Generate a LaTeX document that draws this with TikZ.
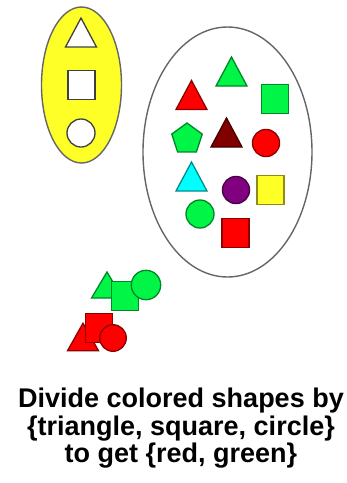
\documentclass[tikz,border=0pt]{standalone}
\usepackage{fontspec}
\setmainfont{Liberation Sans}
\definecolor{sgreen}{RGB}{0,245,70}
\definecolor{sred}{RGB}{255,0,0}
\definecolor{sdred}{RGB}{128,0,0}
\definecolor{scyan}{RGB}{0,255,255}
\definecolor{spurple}{RGB}{128,0,128}
\definecolor{syellow}{RGB}{255,255,40}
\tikzset{
  x=1pt, y=-1pt,
  tri/.pic={\path[pic actions] (0,-14.5) -- (15.5,14.5) -- (-15.5,14.5) -- cycle;},
  sq/.pic={\path[pic actions] (-13.5,-14.5) rectangle (13.5,14.5);},
  circ/.pic={\path[pic actions] (0,0) circle[radius=14];},
  pent/.pic={\path[pic actions] (270:16) -- (342:16) -- (54:16) -- (126:16) -- (198:16) -- cycle;},
  shp/.style={fill=#1, draw=#1!55!black, line width=1.3pt},
  wshp/.style={fill=white, draw=black!75, line width=1.3pt},
  set/.style={draw=black!60, line width=1.4pt}
}
\begin{document}
\begin{tikzpicture}
\useasboundingbox (0,0) rectangle (347,483);
% yellow set of prototypes
\draw[set, fill=syellow] (81.5,85) ellipse[x radius=40, y radius=78];
\pic[wshp] at (81,32.5) {tri};
\pic[wshp] at (81.5,85) {sq};
\pic[wshp] at (81,133) {circ};
% white set of colored shapes
\draw[set, fill=white] (227.5,152) ellipse[x radius=84.5, y radius=125];
\pic[shp=sgreen] at (231.5,71.5) {tri};
\pic[shp=sred] at (191.5,95) {tri};
\pic[shp=sgreen] at (275,99) {sq};
\pic[shp=sgreen] at (187,139) {pent};
\pic[shp=sdred] at (226.5,132.5) {tri};
\pic[shp=sred, scale=0.97] at (266,143) {circ};
\pic[shp=scyan] at (191.5,176.5) {tri};
\pic[shp=spurple, scale=0.97] at (236,190) {circ};
\pic[shp=syellow] at (270.5,190) {sq};
\pic[shp=sgreen] at (200,214) {circ};
\pic[shp=sred] at (235.5,233) {sq};
% result groups
\pic[shp=sgreen, yscale=0.9] at (107,285) {tri};
\pic[shp=sgreen] at (125,296) {sq};
\pic[shp=sgreen, scale=1.05] at (146,285) {circ};
\pic[shp=sred, yscale=0.95] at (83,337) {tri};
\pic[shp=sred] at (99,328) {sq};
\pic[shp=sred, scale=0.95] at (113,338) {circ};
% caption
\node[anchor=north, inner sep=0, align=center, font=\bfseries\fontsize{27}{27.5}\selectfont] (cap) at (181,388)
  {Divide colored shapes by\\\{triangle, square, circle\}\\to get \{red, green\}};
\end{tikzpicture}
\end{document}
